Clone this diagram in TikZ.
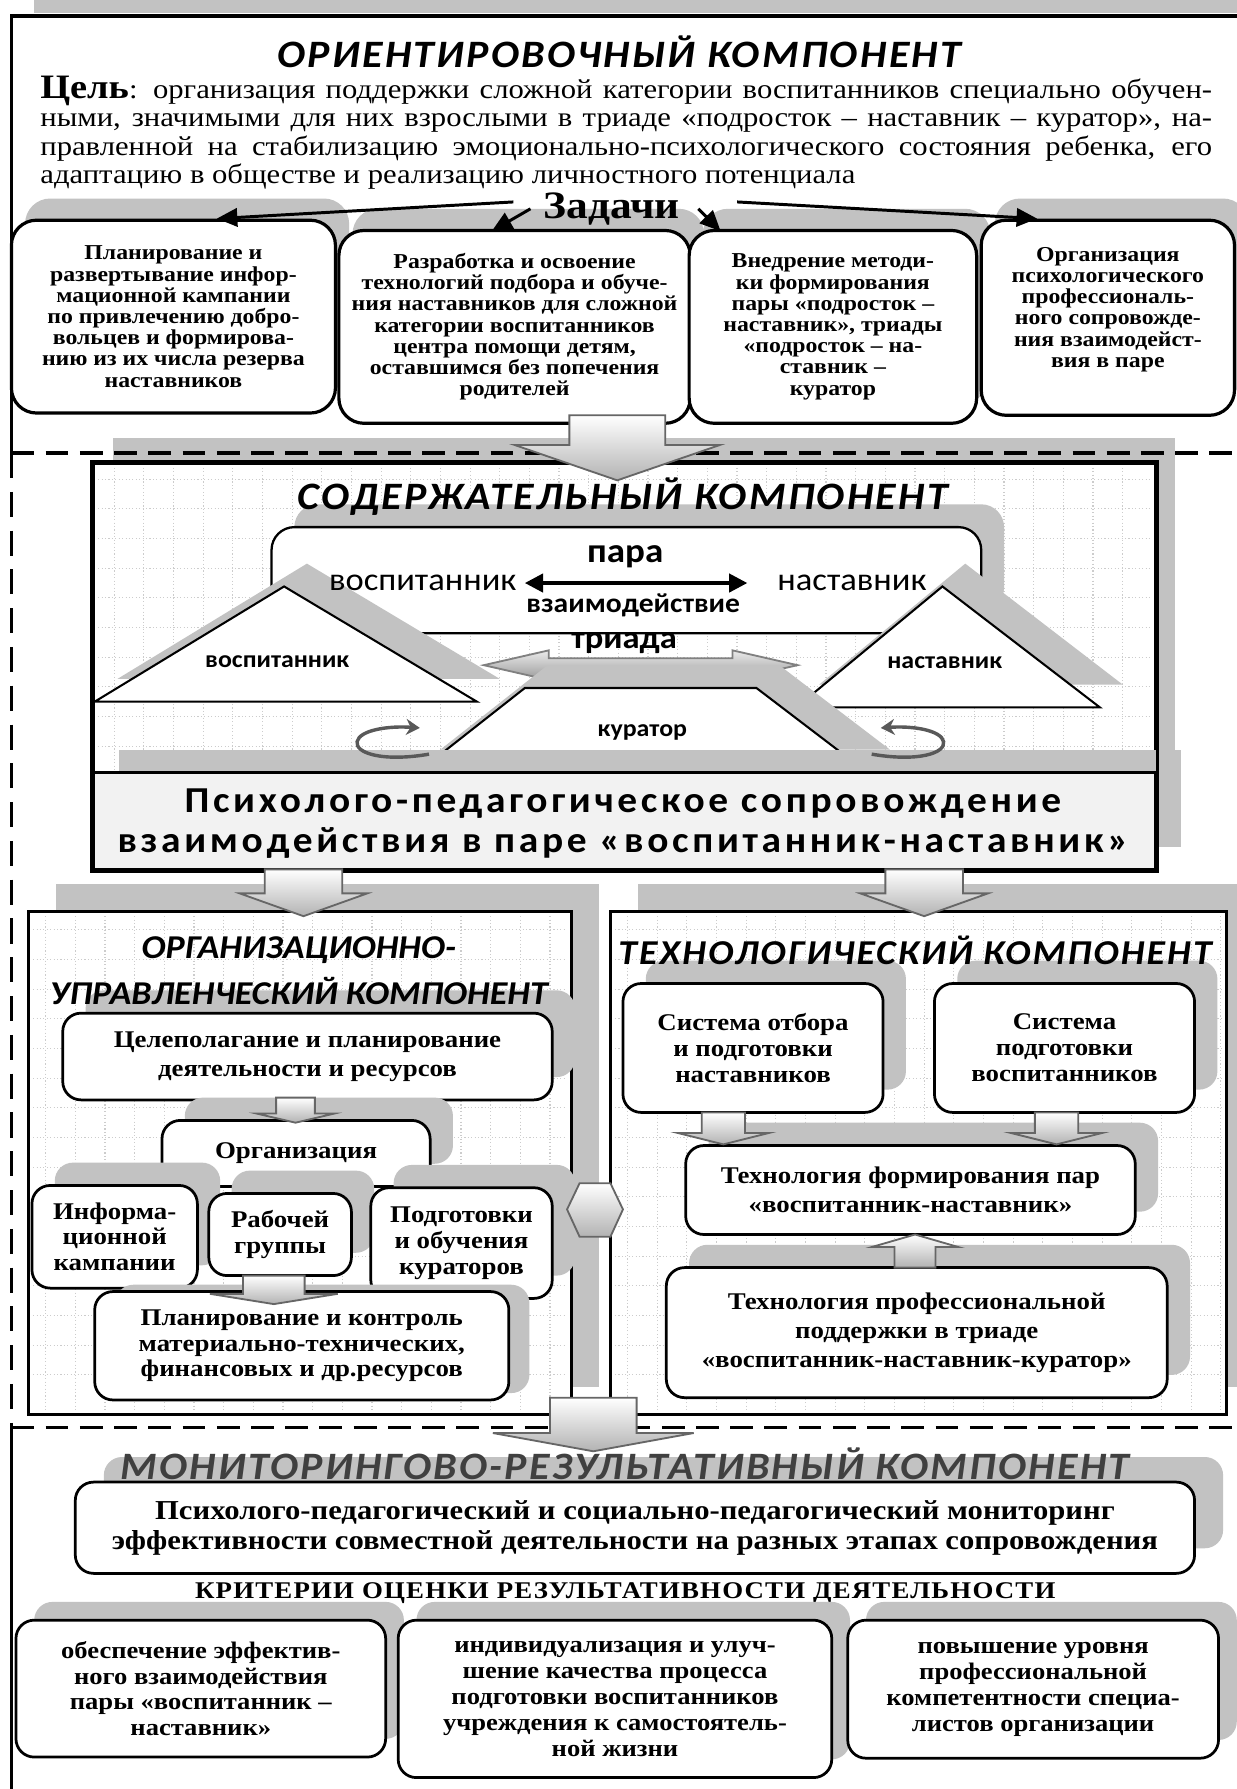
\documentclass[tikz,border=0pt]{standalone}
\usepackage{fontspec}
\setmainfont{Liberation Serif}[FakeStretch=1.12]
\newfontfamily\carl{Carlito}[FakeStretch=1.08]
\newfontfamily\carlsp{Carlito}[FakeStretch=1.08,LetterSpace=6]
\newfontfamily\carlwide{Carlito}[FakeStretch=1.08,LetterSpace=10]
\newfontfamily\serifsp{Liberation Serif}[FakeStretch=1.12,LetterSpace=5]
\usetikzlibrary{shadows,arrows.meta}
\hyphenpenalty=10000 \exhyphenpenalty=10000
\newcommand\bx[7]{\node[#6, minimum width={(#4-#2)*0.5pt}, minimum height={(#5-#3)*0.5pt}] (#1) at ({(#2+#4)/2},{(#3+#5)/2}) {#7};}
\newcommand\bkar[6]{\path[barrow] ({#1-#2},#3) -- ({#1+#2},#3) -- ({#1+#2},#4) -- ({#1+#5},#4) -- (#1,#6) -- ({#1-#5},#4) -- ({#1-#2},#4) -- cycle;}
\colorlet{shdcol}{black!24}
\tikzset{
 shd/.style={drop shadow={shadow xshift=#1, shadow yshift=#1, fill=shdcol, opacity=1}},
 shdxy/.style 2 args={drop shadow={shadow xshift=#1, shadow yshift=#2, fill=shdcol, opacity=1}},
 ttl/.style={font=\carlsp\bfseries\itshape\fontsize{17}{17}\selectfont, inner sep=1pt},
 ttlb/.style={font=\carl\bfseries\itshape\fontsize{14.6}{14.6}\selectfont, inner sep=1pt},
 ttlc/.style={font=\carlsp\bfseries\itshape\fontsize{15.3}{15.3}\selectfont, inner sep=1pt},
 tbox/.style={draw, line width=1.4pt, rounded corners=11pt, fill=white, align=center, inner sep=1pt, font=\bfseries\fontsize{9.3}{9.3}\selectfont, shdxy={6pt}{9.5pt}},
 lbase/.style={draw, line width=1.2pt, rounded corners=8pt, fill=white, align=center, inner sep=1pt, font=\bfseries\fontsize{10.5}{11.3}\selectfont},
 lbox/.style={lbase, shd=10pt},
 lboxw/.style={lbox, font=\bfseries\fontsize{10.5}{12.6}\selectfont},
 kbox/.style={lbase, font=\bfseries\fontsize{10.4}{11.35}\selectfont, shd=8pt},
 bigbox/.style={draw, line width=1.5pt, fill=white},
 barrow/.style={draw=black!60, line width=0.8pt, top color=white, bottom color=black!30},
 gridl/.style={black!20, densely dotted, line width=0.5pt},
 dsh/.style={line width=1.6pt, dash pattern=on 10pt off 5pt},
 trishape/.style={draw, line width=0.9pt, fill=white, shd=10pt},
 larr/.style={line width=1.3pt, -{Triangle[length=9pt,width=8pt]}},
 rotarr/.style={line width=1.5pt, black!65, -{Stealth[length=6pt,width=7pt]}},
 csans/.style={font=\carl\fontsize{14}{14}\selectfont, inner sep=1pt},
 csansb/.style={font=\carl\bfseries\fontsize{#1}{#1}\selectfont, inner sep=1pt},
}
\begin{document}
\begin{tikzpicture}[x=0.5pt,y=-0.5pt]
\fill[white] (0,0) rectangle (1084,1568);
\useasboundingbox (0,0) rectangle (1084,1568);
% ---------- orientation component ----------
\fill[shdcol] (30,0) rectangle (1084,11);
\draw[line width=1.5pt] (1084,14) -- (10,14) -- (10,397);
\node[ttl] (t1) at (543,45) {ОРИЕНТИРОВОЧНЫЙ КОМПОНЕНТ};
\node[anchor=north west, inner sep=0pt, text width=513.5pt, align=justify, font=\fontsize{12}{12.5}\selectfont] (goal) at (35,66)
{{\bfseries\fontsize{15}{12.5}\selectfont Цель}: организация поддержки сложной категории воспитанников специально обучен-\linebreak
ными, значимыми для них взрослыми в триаде «подросток – наставник – куратор», на-\linebreak
правленной на стабилизацию эмоционально-психологического состояния ребенка, его\linebreak
адаптацию в обществе и реализацию личностного потенциала};
\bx{b1}{10}{193}{294}{362}{tbox}{Планирование и\\развертывание инфор-\\мационной кампании\\по привлечению добро-\\вольцев и формирова-\\нию из их числа резерва\\наставников}
\bx{b2}{297}{202}{605}{371}{tbox}{Разработка и освоение\\технологий подбора и обуче-\\ния наставников для сложной\\категории воспитанников\\центра помощи детям,\\оставшимся без попечения\\родителей}
\bx{b3}{604}{202}{856}{371}{tbox}{Внедрение методи-\\ки формирования\\пары «подросток –\\наставник», триады\\«подросток – на-\\ставник –\\куратор}
\bx{b4}{860}{193}{1082}{364}{tbox}{Организация\\психологического\\профессиональ-\\ного сопровожде-\\ния взаимодейст-\\вия в паре\\~}
\node[font=\bfseries\fontsize{17}{17}\selectfont, inner sep=1pt] (zad) at (536,183) {Задачи};
\draw[larr] ([xshift=-12pt,yshift=3pt]zad.west) -- ([xshift=19pt]b1.north);
\draw[larr] ([xshift=-4.5pt]zad.west) -- ([xshift=-10pt,yshift=-1pt]b2.north);
\draw[larr] ([xshift=7pt]zad.east) -- ([xshift=14.5pt,yshift=-1pt]b3.north west);
\draw[larr] ([xshift=24pt,yshift=3pt]zad.east) -- ([xshift=-31pt]b4.north);
% ---------- content component ----------
\bx{cont}{82}{406}{1013}{762}{bigbox, shdxy={8.5pt}{11pt}}{}
\foreach \gx in {100,126,...,1000} \draw[gridl] (\gx,410) -- (\gx,675);
\foreach \gy in {420,446,...,670} \draw[gridl] (86,\gy) -- (1009,\gy);
\draw[dsh] (10,397) -- (1084,397);
\draw[line width=1.6pt, dash pattern=on 11pt off 6pt] (10,397) -- (10,1251);
\bx{pair}{238}{462}{860}{555}{draw, line width=1pt, rounded corners=10pt, fill=white, shd=10pt}{}
\node[ttl] (t2) at (546,435) {СОДЕРЖАТЕЛЬНЫЙ КОМПОНЕНТ};
\path[trishape] (249,514) -- (83,615) -- (418,615) -- cycle;
\node[csansb=10.5] (tv) at (243,580) {воспитанник};
\path[trishape] (826,514) -- (698,620) -- (964,620) -- cycle;
\node[csansb=10.5] (tn) at (828,581) {наставник};
\node[csansb=15] (para) at (548,488) {пара};
\node[csans, anchor=east] (v1) at (455,511) {воспитанник};
\node[csans, anchor=west] (n1) at (679,511) {наставник};
\draw[line width=1.6pt, {Triangle[length=8pt,width=8pt]}-{Triangle[length=8pt,width=8pt]}] ([xshift=2.5pt]v1.east) -- ([xshift=-12pt]n1.west);
\node[csansb=12] (vz) at (555,531) {взаимодействие};
\node[csansb=14] (triad) at (547,564) {триада};
\path[draw=black!50, line width=0.8pt, top color=black!8, bottom color=black!40] (424,583) -- (481,570) -- (481,577) -- (642,577) -- (642,570) -- (699,583) -- (642,596) -- (642,589) -- (481,589) -- (481,596) -- cycle;
\path[trishape] (366,677) -- (460,603) -- (663,603) -- (760,677) -- cycle;
\node[csansb=10.5] (kur) at (563,642) {куратор};
\path[draw, line width=1.2pt, fill=black!5, shdxy={11pt}{10pt}] (82,677) rectangle (1013,762);
\draw[rotarr] (376,661) .. controls (335,668) and (311,660) .. (313,650) .. controls (315,640) and (340,636) .. (368,638);
\draw[rotarr] (764,661) .. controls (805,668) and (829,660) .. (827,650) .. controls (825,640) and (800,636) .. (772,638);
\node[font=\carlwide\bfseries\fontsize{16}{17.5}\selectfont, align=center, inner sep=1pt] (band) at (546,722) {Психолого-педагогическое сопровождение\\взаимодействия в паре «воспитанник-наставник»};
\draw[line width=1.5pt] (cont.north west) rectangle (cont.south east);
\bkar{541}{42}{364}{390}{90}{421}
% ---------- organisational / technological ----------
\bx{org}{25}{799}{501}{1240}{bigbox, shd=12pt}{}
\bx{tech}{535}{799}{1075}{1240}{bigbox, shd=12pt}{}
\foreach \gx in {40,66,...,490} \draw[gridl] (\gx,803) -- (\gx,1236);
\foreach \gy in {815,841,...,1230} \draw[gridl] (29,\gy) -- (497,\gy);
\foreach \gx in {550,576,...,1070} \draw[gridl] (\gx,803) -- (\gx,1236);
\foreach \gy in {815,841,...,1230} \draw[gridl] (539,\gy) -- (1071,\gy);
\bkar{266}{34}{762}{783}{56}{803}
\bkar{810}{34}{762}{783}{56}{803}
\bx{c1}{55}{888}{484}{964}{lboxw}{Целеполагание и планирование\\деятельности и ресурсов}
\bx{c2}{142}{982}{377}{1040}{lbox}{Организация}
\bx{c3}{28}{1039}{173}{1129}{lbox}{Информа-\\ционной\\кампании}
\bx{c4}{183}{1046}{308}{1118}{lbox}{Рабочей\\группы}
\bx{c5}{325}{1041}{484}{1138}{lbox}{Подготовки\\и обучения\\кураторов}
\bx{c6}{83}{1132}{446}{1227}{lbase, shdxy={9pt}{3pt}}{Планирование и контроль\\материально-технических,\\финансовых и др.ресурсов}
\bkar{259}{17}{962}{976}{34}{984}
\bkar{240}{27}{1118}{1134}{56}{1143}
\bx{d1}{546}{862}{774}{975}{lbox}{Система отбора\\и подготовки\\наставников}
\bx{d2}{819}{862}{1047}{975}{lbox}{Система\\подготовки\\воспитанников}
\bx{d3}{601}{1004}{995}{1082}{lboxw}{Технология формирования пар\\«воспитанник-наставник»}
\bx{d4}{584}{1111}{1023}{1225}{lboxw}{Технология профессиональной\\поддержки в триаде\\«воспитанник-наставник-куратор»}
\bkar{634}{19}{975}{993}{40}{1003}
\bkar{926}{19}{975}{993}{40}{1003}
\bkar{802}{18}{1111}{1093}{38}{1082}
\path[barrow] (497,1060) -- (508,1037) -- (535,1037) -- (546,1060) -- (535,1084) -- (508,1084) -- cycle;
\node[ttlb] (t3a) at (262,833) {ОРГАНИЗАЦИОННО-};
\node[ttlb] (t3b) at (262,869) {УПРАВЛЕНЧЕСКИЙ КОМПОНЕНТ};
\node[ttlc] (t4) at (802,833) {ТЕХНОЛОГИЧЕСКИЙ КОМПОНЕНТ};
% ---------- monitoring ----------
\draw[dsh] (10,1251) -- (1084,1251);
\draw[line width=1.5pt] (10,1251) -- (10,1568);
\bx{m1}{66}{1299}{1047}{1379}{lbase, font=\bfseries\fontsize{12}{13}\selectfont, shdxy={12.5pt}{11pt}}{Психолого-педагогический и социально-педагогический мониторинг\\эффективности совместной деятельности на разных этапах сопровождения}
\node[ttl, text=black!75] (t5) at (548,1283) {МОНИТОРИНГОВО-РЕЗУЛЬТАТИВНЫЙ КОМПОНЕНТ};
\node[font=\serifsp\bfseries\fontsize{10.5}{10.5}\selectfont, inner sep=1pt] (crit) at (548,1396) {КРИТЕРИИ ОЦЕНКИ РЕЗУЛЬТАТИВНОСТИ ДЕЯТЕЛЬНОСТИ};
\bx{k1}{14}{1420}{338}{1540}{kbox}{обеспечение эффектив-\\ного взаимодействия\\пары «воспитанник –\\наставник»}
\bx{k2}{349}{1420}{729}{1558}{kbox}{индивидуализация и улуч-\\шение качества процесса\\подготовки воспитанников\\учреждения к самостоятель-\\ной жизни}
\bx{k3}{743}{1420}{1068}{1541}{kbox}{повышение уровня\\профессиональной\\компетентности специа-\\листов организации}
\bkar{520}{38}{1225}{1256}{88}{1272}
\end{tikzpicture}
\end{document}
